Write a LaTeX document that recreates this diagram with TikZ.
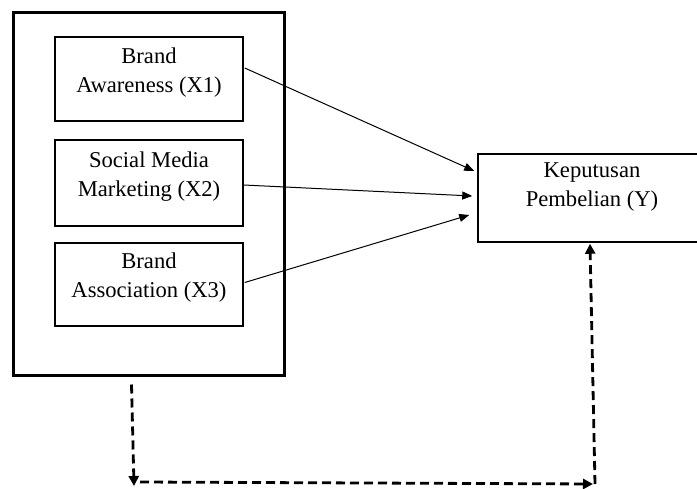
\documentclass[tikz,border=0pt]{standalone}
\usepackage{fontspec}
\setmainfont{Liberation Serif}
\usetikzlibrary{arrows.meta,calc}

\begin{document}
\begin{tikzpicture}[x=0.5pt, y=-0.5pt, font=\fontsize{11.3}{14.5}\selectfont,
  varbox/.style={draw, line width=0.75pt, align=center, minimum width=94pt, text depth=9pt},
  link/.style={line width=0.5pt, -{Triangle[length=5pt, width=4pt]}},
  hyplink/.style={line width=1.4pt, dash pattern=on 4.5pt off 2.5pt, -{Triangle[length=5pt, width=5pt]}}]
  \useasboundingbox (0,0) rectangle (697,488);

  % Outer frame (simultaneous)
  \node[draw, line width=1.5pt, minimum width=135.5pt, minimum height=181.5pt] (frame) at (148.5,193.5) {};

  % Independent variables
  \node[varbox, minimum height=42pt] (aware) at (149,79) {Brand\\Awareness (X1)};
  \node[varbox, minimum height=43pt] (smm) at (149,183) {Social Media\\Marketing (X2)};
  \node[varbox, minimum height=41.5pt] (assoc) at (149,284.5) {Brand\\Association (X3)};

  % Dependent variable
  \node[draw, line width=0.75pt, align=center, minimum width=114pt, minimum height=44pt, text depth=13pt] (kep) at (592,198) {Keputusan\\Pembelian (Y)};

  % Partial effects
  \draw[link] ($(aware.east)+(1,-11)$) -- ($(kep.west)+(-3,-27)$);
  \draw[link] ($(smm.east)+(0,2)$) -- ($(kep.west)+(-5,-2)$);
  \draw[link] ($(assoc.east)+(1,-2)$) -- ($(kep.west)+(-8,17)$);

  % Simultaneous effect
  \coordinate (c1) at (134,486);
  \coordinate (c2) at (593,484);
  \draw[hyplink] ($(frame.south)+(-17,8)$) -- (c1);
  \draw[hyplink] ($(c1)+(6,-4)$) -- (c2);
  \draw[hyplink] ($(c2)+(2,0)$) -- ($(kep.south)+(-2,1)$);
\end{tikzpicture}
\end{document}
